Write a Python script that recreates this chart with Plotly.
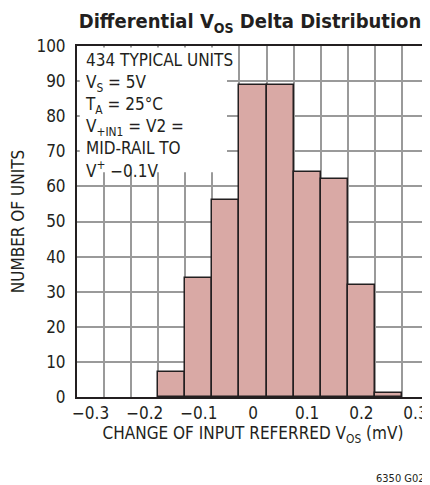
import plotly.graph_objects as go

bin_centers = [-0.15, -0.10, -0.05, 0.0, 0.05, 0.10, 0.15, 0.20, 0.25]
counts = [7, 34, 56, 89, 89, 64, 62, 32, 1]
x_ticks = [-0.3, -0.2, -0.1, 0, 0.1, 0.2, 0.3]
x_tick_text = ["\u22120.3", "\u22120.2", "\u22120.1", "0", "0.1", "0.2", "0.3"]
y_ticks = [0, 10, 20, 30, 40, 50, 60, 70, 80, 90, 100]

FONT = "DejaVu Sans Condensed, Liberation Sans Narrow, sans-serif"
DARK = "#231f20"
GRID = "#9a9a9a"

# the page body keeps its default 8px margin, so the figure is 8px smaller than the window
fig = go.Figure()
fig.add_trace(go.Bar(
    x=bin_centers, y=counts, width=0.05,
    marker=dict(color="#d9a9a5", line=dict(color=DARK, width=1.5)),
))

fig.add_shape(type="rect", xref="x", yref="y", x0=-0.320, x1=-0.048, y0=64, y1=99.6,
              fillcolor="white", line=dict(width=0), layer="between")

fig.add_annotation(
    xref="paper", yref="paper", x=0.016, y=0.995, xanchor="left", yanchor="top",
    align="left", showarrow=False,
    text=("434 TYPICAL UNITS<br>V<sub>S</sub> = 5V<br>T<sub>A</sub> = 25°C<br>"
          "V<sub>+IN1</sub> = V2 =<br>MID-RAIL TO<br>V<sup>+</sup> \u22120.1V"),
    font=dict(family=FONT, size=17, color=DARK),
)

fig.add_annotation(
    xref="paper", yref="paper", x=0.994, y=-0.231, xanchor="right", yanchor="middle",
    showarrow=False, text="6350 G02", font=dict(family=FONT, size=11, color=DARK),
)

fig.update_layout(
    width=422, height=477,
    margin=dict(l=69, r=1, t=38, b=88, autoexpand=False),
    paper_bgcolor="white", plot_bgcolor="white",
    showlegend=False, bargap=0,
    font=dict(family=FONT, color=DARK, size=17),
    title=dict(text="<b>Differential V<sub>OS</sub> Delta Distribution</b>",
               x=0.5735, xanchor="center", y=0.972, yanchor="middle",
               font=dict(family=FONT, size=20, color=DARK)),
)

fig.update_xaxes(
    range=[-0.325, 0.325], tickvals=x_ticks, ticktext=x_tick_text, automargin=False,
    showgrid=False, zeroline=False, ticks="", ticklabelstandoff=0,
    showline=True, linecolor=DARK, linewidth=2, mirror=True,
    minor=dict(tick0=-0.275, dtick=0.05, showgrid=True, gridcolor=GRID, gridwidth=1.5, ticks=""),
    tickfont=dict(family=FONT, size=17, color=DARK),
    title=dict(text="CHANGE OF INPUT REFERRED V<sub>OS</sub> (mV)", standoff=4,
               font=dict(family=FONT, size=17, color=DARK)),
)
fig.update_yaxes(
    range=[0, 100], tickvals=y_ticks, showgrid=True, gridcolor=GRID, gridwidth=1.5,
    zeroline=False, ticks="", ticklabelstandoff=6, automargin=False,
    showline=True, linecolor=DARK, linewidth=2, mirror=True,
    tickfont=dict(family=FONT, size=17, color=DARK),
    title=dict(text="NUMBER OF UNITS", standoff=16,
               font=dict(family=FONT, size=17, color=DARK)),
)

fig.write_html("out.html")
